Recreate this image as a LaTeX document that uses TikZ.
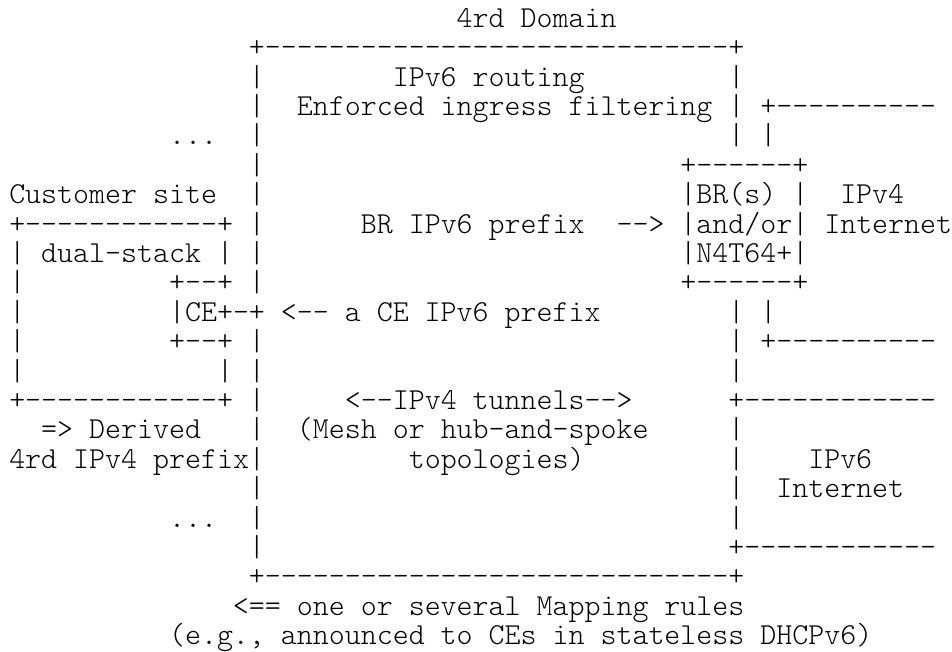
\documentclass[tikz,border=0pt]{standalone}
\usepackage{tikz}

\newcommand\blanks[1]{\kern#1\fontdimen2\font}
\newcommand\dashes[1]{\foreach \d in {1,...,#1}{-}}

\tikzset{asciirow/.style={anchor=base west,inner sep=0pt,
  font=\fontsize{22.83}{27}\ttfamily\fontseries{l}\selectfont}}

\begin{document}
\begin{tikzpicture}[x=0.75pt,y=-0.75pt]
\useasboundingbox[fill=white] (0,0) rectangle (952,651);

\node (line1) at (456.44,27.2)[asciirow] {4rd Domain};
\node (line2) at (248.7,56.6)[asciirow] {+\dashes{29}+};
\node (line3) at (248.7,86.0)[asciirow] {|\blanks{8}IPv6 routing\blanks{9}|};
\node (line4) at (248.7,115.4)[asciirow] {|\blanks{2}Enforced ingress filtering | +\dashes{10}};
\node (line5) at (168.8,144.8)[asciirow] {...\blanks{2}|\blanks{29}| |};
\node (line6) at (248.7,174.2)[asciirow] {|\blanks{26}+\dashes{6}+};
\node (line7) at (9.0,203.6)[asciirow] {Customer site\blanks{2}|\blanks{26}|BR(s) |\blanks{2}IPv4};
\node (line8) at (9.0,233.0)[asciirow] {+\dashes{12}+ |\blanks{6}BR IPv6 prefix\blanks{2}-{}-> |and/or| Internet};
\node (line9) at (9.0,262.4)[asciirow] {| dual-stack | |\blanks{26}|N4T64+|};
\node (line10) at (9.0,291.8)[asciirow] {|\blanks{9}+\dashes{2}+ |\blanks{26}+\dashes{6}+};
\node (line11) at (9.0,321.2)[asciirow] {|\blanks{9}|CE+-+ <-{}- a CE IPv6 prefix\blanks{8}| |};
\node (line12) at (9.0,350.6)[asciirow] {|\blanks{9}+\dashes{2}+ |\blanks{29}| +\dashes{10}};
\node (line13) at (9.0,380.0)[asciirow] {|\blanks{12}| |\blanks{29}|};
\node (line14) at (9.0,409.4)[asciirow] {+\dashes{12}+ |\blanks{5}<-{}-IPv4 tunnels-{}->\blanks{6}+\dashes{12}};
\node (line15) at (40.96,438.8)[asciirow] {=> Derived\blanks{3}|\blanks{2}(Mesh or hub-and-spoke\blanks{5}|};
\node (line16) at (9.0,468.2)[asciirow] {4rd IPv4 prefix|\blanks{9}topologies)\blanks{9}|\blanks{4}IPv6};
\node (line17) at (248.7,497.6)[asciirow] {|\blanks{29}|\blanks{2}Internet};
\node (line18) at (168.8,527.0)[asciirow] {...\blanks{2}|\blanks{29}|};
\node (line19) at (248.7,556.4)[asciirow] {|\blanks{29}+\dashes{12}};
\node (line20) at (248.7,585.8)[asciirow] {+\dashes{29}+};
\node (line21) at (232.72,615.2)[asciirow] {<== one or several Mapping rules};
\node (line22) at (168.8,644.6)[asciirow] {(e.g., announced to CEs in stateless DHCPv6)};
\end{tikzpicture}
\end{document}
